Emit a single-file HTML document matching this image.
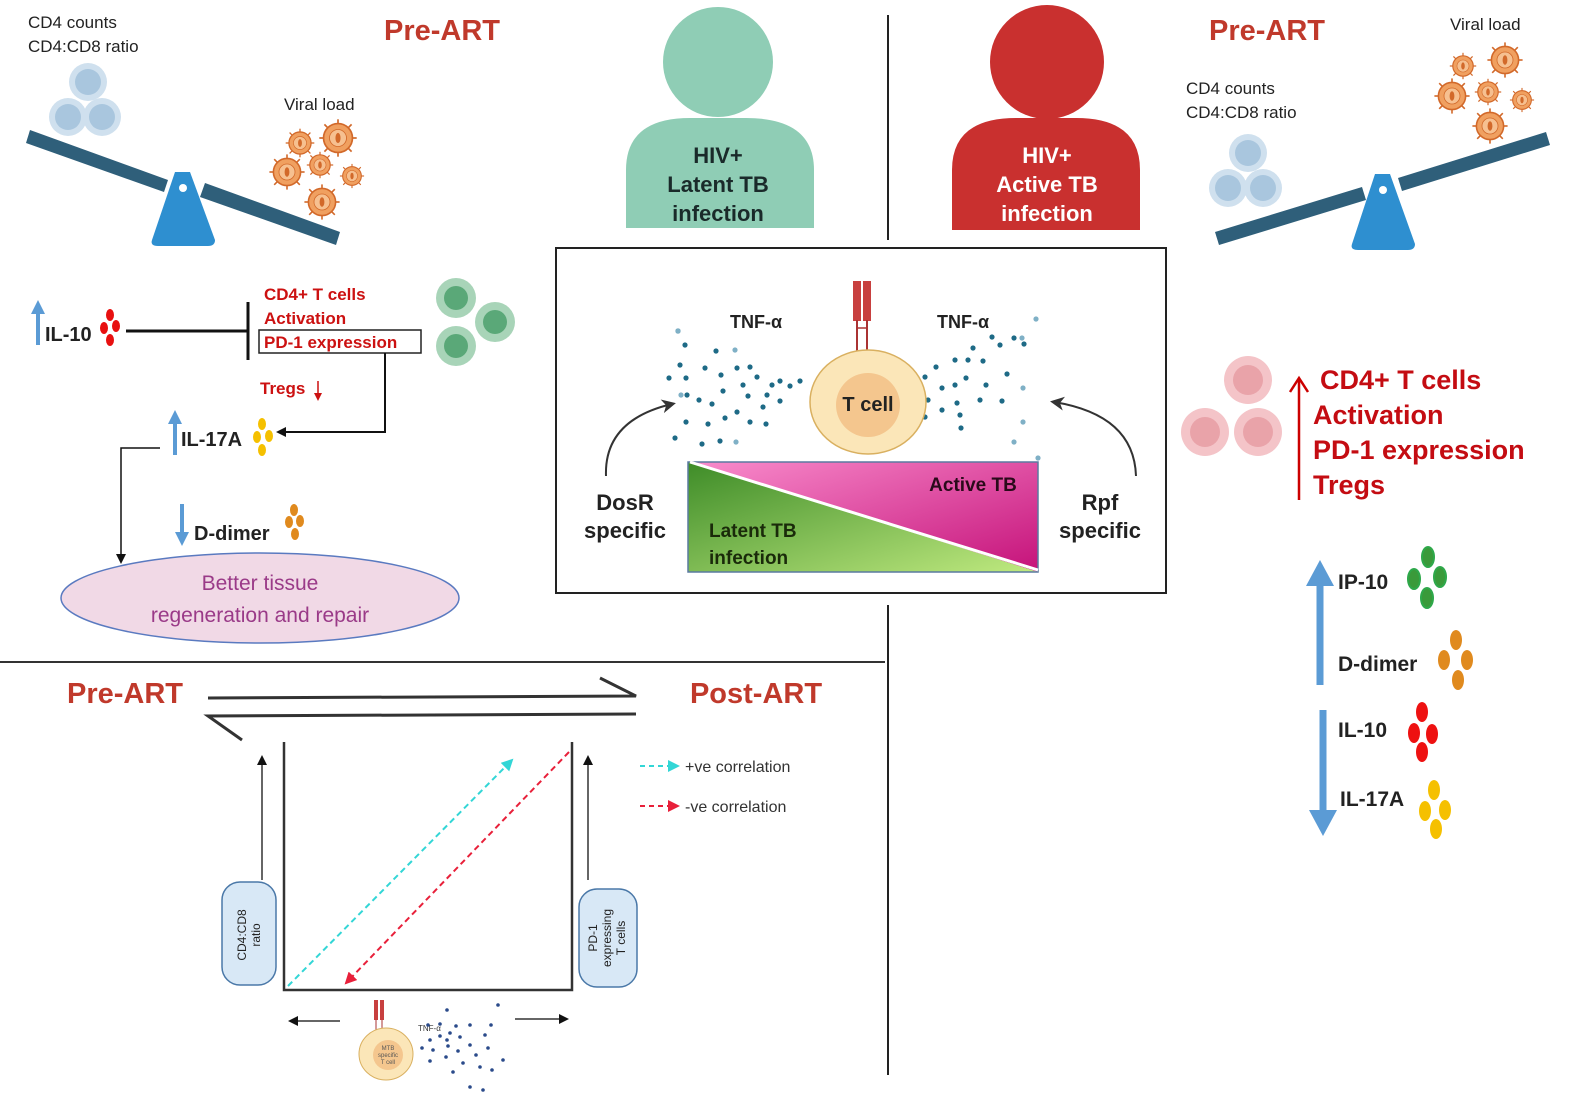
<!DOCTYPE html>
<html><head><meta charset="utf-8"><style>
html,body{margin:0;padding:0;background:#fff;}
svg{display:block;font-family:"Liberation Sans",sans-serif;}
.b{font-weight:bold;}
</style></head><body>
<svg width="1579" height="1105" viewBox="0 0 1579 1105" xmlns="http://www.w3.org/2000/svg">
<defs>
<marker id="ah" markerWidth="10" markerHeight="10" refX="8" refY="5" orient="auto" markerUnits="userSpaceOnUse"><path d="M0,0 L10,5 L0,10 z" fill="#111"/></marker>
<marker id="ahb" markerWidth="14" markerHeight="14" refX="10" refY="7" orient="auto" markerUnits="userSpaceOnUse"><path d="M0,0 L14,7 L0,14 L4,7 z" fill="#333"/></marker>
<marker id="ahc" markerWidth="12" markerHeight="12" refX="10" refY="6" orient="auto" markerUnits="userSpaceOnUse"><path d="M0,0 L12,6 L0,12 z" fill="#33d6d6"/></marker>
<marker id="ahr" markerWidth="12" markerHeight="12" refX="10" refY="6" orient="auto" markerUnits="userSpaceOnUse"><path d="M0,0 L12,6 L0,12 z" fill="#e8203a"/></marker>
<linearGradient id="gm" x1="0" y1="0" x2="1" y2="1"><stop offset="0" stop-color="#f98ccc"/><stop offset="1" stop-color="#c5127a"/></linearGradient>
<linearGradient id="gg" x1="0" y1="0" x2="1" y2="1"><stop offset="0" stop-color="#3e8c28"/><stop offset="1" stop-color="#c0ea80"/></linearGradient>
<g id="vir"><circle r="17" fill="#f0a060" stroke="#d2692a" stroke-width="2"/><circle r="10" fill="#f6c090" stroke="#d2692a"/><ellipse rx="3" ry="6" fill="#d2692a"/>
<g stroke="#d2692a" stroke-width="2"><line x1="0" y1="-17" x2="0" y2="-22"/><line x1="0" y1="17" x2="0" y2="22"/><line x1="17" y1="0" x2="22" y2="0"/><line x1="-17" y1="0" x2="-22" y2="0"/><line x1="12" y1="12" x2="16" y2="16"/><line x1="-12" y1="-12" x2="-16" y2="-16"/><line x1="12" y1="-12" x2="16" y2="-16"/><line x1="-12" y1="12" x2="-16" y2="16"/></g></g>
<g id="bcell"><circle r="19" fill="#cfe0ee"/><circle r="13" fill="#a9c6de"/></g>
</defs>

<line x1="888" y1="15" x2="888" y2="240" stroke="#222" stroke-width="2"/>
<line x1="888" y1="605" x2="888" y2="1075" stroke="#222" stroke-width="2"/>
<line x1="0" y1="662" x2="885" y2="662" stroke="#333" stroke-width="2"/>

<text x="28" y="28" font-size="17" fill="#222">CD4 counts</text>
<text x="28" y="52" font-size="17" fill="#222">CD4:CD8 ratio</text>
<text x="442" y="40" font-size="29" class="b" fill="#c0392b" text-anchor="middle">Pre-ART</text>
<text x="284" y="110" font-size="17" fill="#222">Viral load</text>
<use href="#bcell" x="88" y="82"/><use href="#bcell" x="68" y="117"/><use href="#bcell" x="102" y="117"/>
<path d="M30,130 L168,180 L164,192 L26,143 z" fill="#2f5f7a"/>
<path d="M205,183 L340,232 L336,245 L200,197 z" fill="#2f5f7a"/>
<path d="M175,172 L190,172 L215,240 Q215,246 208,246 L158,246 Q150,246 152,240 z" fill="#2e8fd0"/>
<circle cx="183" cy="188" r="4" fill="#fff"/>
<use href="#vir" transform="translate(300,143) scale(0.65)"/>
<use href="#vir" transform="translate(338,138) scale(0.85)"/>
<use href="#vir" transform="translate(287,172) scale(0.8)"/>
<use href="#vir" transform="translate(320,165) scale(0.6)"/>
<use href="#vir" transform="translate(352,176) scale(0.55)"/>
<use href="#vir" transform="translate(322,202) scale(0.8)"/>

<circle cx="718" cy="62" r="55" fill="#8fcdb5"/>
<path d="M626,228 L626,170 Q626,118 690,118 L746,118 Q814,118 814,170 L814,228 z" fill="#8fcdb5"/>
<text x="718" y="163" font-size="22" class="b" fill="#1a2a2a" text-anchor="middle">HIV+</text>
<text x="718" y="192" font-size="22" class="b" fill="#1a2a2a" text-anchor="middle">Latent TB</text>
<text x="718" y="221" font-size="22" class="b" fill="#1a2a2a" text-anchor="middle">infection</text>
<circle cx="1047" cy="62" r="57" fill="#c9302f"/>
<path d="M952,230 L952,170 Q952,118 1016,118 L1076,118 Q1140,118 1140,170 L1140,230 z" fill="#c9302f"/>
<text x="1047" y="163" font-size="22" class="b" fill="#fff" text-anchor="middle">HIV+</text>
<text x="1047" y="192" font-size="22" class="b" fill="#fff" text-anchor="middle">Active TB</text>
<text x="1047" y="221" font-size="22" class="b" fill="#fff" text-anchor="middle">infection</text>

<rect x="556" y="248" width="610" height="345" fill="#fff" stroke="#222" stroke-width="2"/>
<g fill="#1e6a86">
<circle cx="678" cy="331" r="2.6"/><circle cx="685" cy="345" r="2.6"/><circle cx="716" cy="351" r="2.6"/><circle cx="680" cy="365" r="2.6"/><circle cx="705" cy="368" r="2.6"/><circle cx="686" cy="378" r="2.6"/><circle cx="669" cy="378" r="2.6"/><circle cx="721" cy="375" r="2.6"/><circle cx="737" cy="368" r="2.6"/><circle cx="750" cy="367" r="2.6"/><circle cx="743" cy="385" r="2.6"/><circle cx="757" cy="377" r="2.6"/><circle cx="767" cy="395" r="2.6"/><circle cx="772" cy="385" r="2.6"/><circle cx="780" cy="381" r="2.6"/><circle cx="763" cy="407" r="2.6"/><circle cx="748" cy="396" r="2.6"/><circle cx="723" cy="391" r="2.6"/><circle cx="712" cy="404" r="2.6"/><circle cx="699" cy="400" r="2.6"/><circle cx="687" cy="395" r="2.6"/><circle cx="725" cy="418" r="2.6"/><circle cx="737" cy="412" r="2.6"/><circle cx="750" cy="422" r="2.6"/><circle cx="766" cy="424" r="2.6"/><circle cx="686" cy="422" r="2.6"/><circle cx="708" cy="424" r="2.6"/><circle cx="675" cy="438" r="2.6"/><circle cx="702" cy="444" r="2.6"/><circle cx="720" cy="441" r="2.6"/><circle cx="790" cy="386" r="2.6"/><circle cx="800" cy="381" r="2.6"/><circle cx="780" cy="401" r="2.6"/>
<circle cx="880" cy="396" r="2.6"/><circle cx="890" cy="403" r="2.6"/><circle cx="896" cy="396" r="2.6"/><circle cx="896" cy="386" r="2.6"/><circle cx="913" cy="375" r="2.6"/><circle cx="925" cy="377" r="2.6"/><circle cx="913" cy="395" r="2.6"/><circle cx="928" cy="400" r="2.6"/><circle cx="913" cy="410" r="2.6"/><circle cx="925" cy="417" r="2.6"/><circle cx="942" cy="410" r="2.6"/><circle cx="942" cy="388" r="2.6"/><circle cx="936" cy="367" r="2.6"/><circle cx="955" cy="385" r="2.6"/><circle cx="955" cy="360" r="2.6"/><circle cx="957" cy="403" r="2.6"/><circle cx="960" cy="415" r="2.6"/><circle cx="966" cy="378" r="2.6"/><circle cx="968" cy="360" r="2.6"/><circle cx="983" cy="361" r="2.6"/><circle cx="980" cy="400" r="2.6"/><circle cx="986" cy="385" r="2.6"/><circle cx="1000" cy="345" r="2.6"/><circle cx="1002" cy="401" r="2.6"/><circle cx="1014" cy="338" r="2.6"/><circle cx="1024" cy="344" r="2.6"/><circle cx="973" cy="348" r="2.6"/><circle cx="992" cy="337" r="2.6"/><circle cx="1007" cy="374" r="2.6"/><circle cx="961" cy="428" r="2.6"/>
</g>
<g fill="#7fb0c6">
<circle cx="678" cy="331" r="2.6"/><circle cx="681" cy="395" r="2.6"/><circle cx="735" cy="350" r="2.6"/><circle cx="736" cy="442" r="2.6"/><circle cx="1036" cy="319" r="2.6"/><circle cx="1023" cy="388" r="2.6"/><circle cx="1023" cy="422" r="2.6"/><circle cx="1014" cy="442" r="2.6"/><circle cx="1038" cy="458" r="2.6"/><circle cx="1022" cy="338" r="2.6"/>
</g>
<text x="756" y="328" font-size="18" class="b" fill="#222" text-anchor="middle">TNF-α</text>
<text x="963" y="328" font-size="18" class="b" fill="#222" text-anchor="middle">TNF-α</text>
<rect x="853" y="281" width="8" height="40" fill="#c8403f"/><rect x="863" y="281" width="8" height="40" fill="#c8403f"/>
<line x1="857" y1="320" x2="857" y2="355" stroke="#a33" stroke-width="2"/><line x1="867" y1="320" x2="867" y2="355" stroke="#a33" stroke-width="2"/>
<line x1="857" y1="328" x2="867" y2="328" stroke="#a33" stroke-width="1.5"/>
<ellipse cx="868" cy="402" rx="58" ry="52" fill="#fbe6b8" stroke="#d9b060" stroke-width="1.5"/>
<circle cx="868" cy="405" r="32" fill="#f4c68e"/>
<text x="868" y="411" font-size="20" class="b" fill="#222" text-anchor="middle">T cell</text>
<polygon points="688,462 1038,462 1038,572" fill="url(#gm)"/>
<polygon points="688,462 1038,572 688,572" fill="url(#gg)"/>
<rect x="688" y="462" width="350" height="110" fill="none" stroke="#5a7aa0" stroke-width="1.5"/>
<line x1="690" y1="462" x2="1038" y2="570" stroke="#fff" stroke-width="3"/>
<text x="973" y="491" font-size="19" class="b" fill="#2a0a1a" text-anchor="middle">Active TB</text>
<text x="709" y="537" font-size="19" class="b" fill="#1a2a0a">Latent TB</text>
<text x="709" y="564" font-size="19" class="b" fill="#1a2a0a">infection</text>
<text x="625" y="510" font-size="22" class="b" fill="#222" text-anchor="middle">DosR</text>
<text x="625" y="538" font-size="22" class="b" fill="#222" text-anchor="middle">specific</text>
<text x="1100" y="510" font-size="22" class="b" fill="#222" text-anchor="middle">Rpf</text>
<text x="1100" y="538" font-size="22" class="b" fill="#222" text-anchor="middle">specific</text>
<path d="M606,476 Q604,420 672,404" fill="none" stroke="#333" stroke-width="2" marker-end="url(#ahb)"/>
<path d="M1136,476 Q1134,415 1054,402" fill="none" stroke="#333" stroke-width="2" marker-end="url(#ahb)"/>

<text x="1267" y="40" font-size="29" class="b" fill="#c0392b" text-anchor="middle">Pre-ART</text>
<text x="1450" y="30" font-size="17" fill="#222">Viral load</text>
<text x="1186" y="94" font-size="17" fill="#222">CD4 counts</text>
<text x="1186" y="118" font-size="17" fill="#222">CD4:CD8 ratio</text>
<use href="#bcell" x="1248" y="153"/><use href="#bcell" x="1228" y="188"/><use href="#bcell" x="1263" y="188"/>
<path d="M1215,232 L1362,187 L1366,200 L1219,245 z" fill="#2f5f7a"/>
<path d="M1398,178 L1546,132 L1550,145 L1402,191 z" fill="#2f5f7a"/>
<path d="M1375,174 L1390,174 L1415,244 Q1415,250 1408,250 L1358,250 Q1350,250 1352,244 z" fill="#2e8fd0"/>
<circle cx="1383" cy="190" r="4" fill="#fff"/>
<use href="#vir" transform="translate(1463,66) scale(0.6)"/>
<use href="#vir" transform="translate(1505,60) scale(0.8)"/>
<use href="#vir" transform="translate(1452,96) scale(0.8)"/>
<use href="#vir" transform="translate(1488,92) scale(0.6)"/>
<use href="#vir" transform="translate(1522,100) scale(0.55)"/>
<use href="#vir" transform="translate(1490,126) scale(0.8)"/>

<g><circle cx="1248" cy="380" r="24" fill="#f4c4c8"/><circle cx="1248" cy="380" r="15" fill="#e9a3a9"/>
<circle cx="1205" cy="432" r="24" fill="#f4c4c8"/><circle cx="1205" cy="432" r="15" fill="#e9a3a9"/>
<circle cx="1258" cy="432" r="24" fill="#f4c4c8"/><circle cx="1258" cy="432" r="15" fill="#e9a3a9"/></g>
<line x1="1299" y1="500" x2="1299" y2="380" stroke="#c00" stroke-width="2.5"/>
<path d="M1290,392 L1299,378 L1308,392" fill="none" stroke="#c00" stroke-width="2.5"/>
<g font-size="27" class="b" fill="#c40c12">
<text x="1320" y="389">CD4+ T cells</text><text x="1313" y="424">Activation</text><text x="1313" y="459">PD-1 expression</text><text x="1313" y="494">Tregs</text></g>
<line x1="1320" y1="685" x2="1320" y2="580" stroke="#5b9bd5" stroke-width="7"/>
<path d="M1306,586 L1320,560 L1334,586 z" fill="#5b9bd5"/>
<line x1="1323" y1="710" x2="1323" y2="815" stroke="#5b9bd5" stroke-width="7"/>
<path d="M1309,810 L1323,836 L1337,810 z" fill="#5b9bd5"/>
<g font-size="21" class="b" fill="#222">
<text x="1338" y="589">IP-10</text><text x="1338" y="671">D-dimer</text><text x="1338" y="737">IL-10</text><text x="1340" y="806">IL-17A</text></g>
<g fill="#3a9a3a" stroke="#2ea84a" stroke-width="2"><ellipse cx="1428" cy="557" rx="6" ry="10"/><ellipse cx="1414" cy="579" rx="6" ry="10"/><ellipse cx="1440" cy="577" rx="6" ry="10"/><ellipse cx="1427" cy="598" rx="6" ry="10"/></g>
<g fill="#e08a1e"><ellipse cx="1456" cy="640" rx="6" ry="10"/><ellipse cx="1444" cy="660" rx="6" ry="10"/><ellipse cx="1467" cy="660" rx="6" ry="10"/><ellipse cx="1458" cy="680" rx="6" ry="10"/></g>
<g fill="#ee1111"><ellipse cx="1422" cy="712" rx="6" ry="10"/><ellipse cx="1414" cy="733" rx="6" ry="10"/><ellipse cx="1432" cy="734" rx="6" ry="10"/><ellipse cx="1422" cy="752" rx="6" ry="10"/></g>
<g fill="#f5c000"><ellipse cx="1434" cy="790" rx="6" ry="10"/><ellipse cx="1425" cy="811" rx="6" ry="10"/><ellipse cx="1445" cy="810" rx="6" ry="10"/><ellipse cx="1436" cy="829" rx="6" ry="10"/></g>

<line x1="38" y1="345" x2="38" y2="310" stroke="#5b9bd5" stroke-width="4"/>
<path d="M31,314 L38,300 L45,314 z" fill="#5b9bd5"/>
<text x="45" y="341" font-size="20" class="b" fill="#222">IL-10</text>
<g fill="#e81010"><ellipse cx="110" cy="315" rx="4" ry="6"/><ellipse cx="104" cy="328" rx="4" ry="6"/><ellipse cx="116" cy="326" rx="4" ry="6"/><ellipse cx="110" cy="340" rx="4" ry="6"/></g>
<line x1="126" y1="331" x2="248" y2="331" stroke="#111" stroke-width="3"/>
<line x1="248" y1="302" x2="248" y2="360" stroke="#111" stroke-width="3"/>
<g font-size="17" class="b" fill="#cc1111"><text x="264" y="300">CD4+ T cells</text><text x="264" y="324">Activation</text><text x="264" y="348">PD-1 expression</text><text x="260" y="394">Tregs</text></g>
<rect x="259" y="330" width="162" height="23" fill="none" stroke="#222" stroke-width="1.5"/>
<line x1="318" y1="381" x2="318" y2="398" stroke="#cc1111" stroke-width="1.5"/><path d="M314,393 L318,401 L322,393 z" fill="#cc1111"/>
<g><circle cx="456" cy="298" r="20" fill="#a8d4b8"/><circle cx="456" cy="298" r="12" fill="#5aa878"/>
<circle cx="495" cy="322" r="20" fill="#a8d4b8"/><circle cx="495" cy="322" r="12" fill="#5aa878"/>
<circle cx="456" cy="346" r="20" fill="#a8d4b8"/><circle cx="456" cy="346" r="12" fill="#5aa878"/></g>
<polyline points="385,353 385,432 278,432" fill="none" stroke="#111" stroke-width="2" marker-end="url(#ah)"/>
<line x1="175" y1="455" x2="175" y2="420" stroke="#5b9bd5" stroke-width="4"/>
<path d="M168,424 L175,410 L182,424 z" fill="#5b9bd5"/>
<text x="181" y="446" font-size="20" class="b" fill="#222">IL-17A</text>
<g fill="#f5c000"><ellipse cx="262" cy="424" rx="4" ry="6"/><ellipse cx="257" cy="437" rx="4" ry="6"/><ellipse cx="269" cy="436" rx="4" ry="6"/><ellipse cx="262" cy="450" rx="4" ry="6"/></g>
<polyline points="160,448 121,448 121,562" fill="none" stroke="#111" stroke-width="1.5" marker-end="url(#ah)"/>
<line x1="182" y1="504" x2="182" y2="535" stroke="#5b9bd5" stroke-width="4"/>
<path d="M175,532 L182,546 L189,532 z" fill="#5b9bd5"/>
<text x="194" y="540" font-size="20" class="b" fill="#222">D-dimer</text>
<g fill="#e08a1e"><ellipse cx="294" cy="510" rx="4" ry="6"/><ellipse cx="289" cy="522" rx="4" ry="6"/><ellipse cx="300" cy="521" rx="4" ry="6"/><ellipse cx="295" cy="534" rx="4" ry="6"/></g>
<ellipse cx="260" cy="598" rx="199" ry="45" fill="#f1d9e6" stroke="#5a7ac0" stroke-width="1.5"/>
<text x="260" y="590" font-size="21" fill="#9a3a88" text-anchor="middle">Better tissue</text>
<text x="260" y="622" font-size="21" fill="#9a3a88" text-anchor="middle">regeneration and repair</text>

<text x="125" y="703" font-size="29" class="b" fill="#c0392b" text-anchor="middle">Pre-ART</text>
<text x="756" y="703" font-size="29" class="b" fill="#c0392b" text-anchor="middle">Post-ART</text>
<polyline points="208,698 636,696 600,678" fill="none" stroke="#333" stroke-width="3"/>
<polyline points="636,714 208,716 242,740" fill="none" stroke="#333" stroke-width="3"/>
<polyline points="284,742 284,990 572,990 572,742" fill="none" stroke="#333" stroke-width="2.5"/>
<line x1="262" y1="880" x2="262" y2="757" stroke="#333" stroke-width="1.5" marker-end="url(#ah)"/>
<line x1="588" y1="880" x2="588" y2="757" stroke="#333" stroke-width="1.5" marker-end="url(#ah)"/>
<rect x="222" y="882" width="54" height="103" rx="18" fill="#d8e8f6" stroke="#4a78a8" stroke-width="1.5"/>
<rect x="579" y="889" width="58" height="98" rx="18" fill="#d8e8f6" stroke="#4a78a8" stroke-width="1.5"/>
<text transform="translate(246,935) rotate(-90)" font-size="12" fill="#222" text-anchor="middle">CD4:CD8</text>
<text transform="translate(260,935) rotate(-90)" font-size="12" fill="#222" text-anchor="middle">ratio</text>
<text transform="translate(597,938) rotate(-90)" font-size="12" fill="#222" text-anchor="middle">PD-1</text>
<text transform="translate(611,938) rotate(-90)" font-size="12" fill="#222" text-anchor="middle">expressing</text>
<text transform="translate(625,938) rotate(-90)" font-size="12" fill="#222" text-anchor="middle">T cells</text>
<line x1="288" y1="986" x2="512" y2="760" stroke="#33d6d6" stroke-width="2" stroke-dasharray="6,4" marker-end="url(#ahc)"/>
<line x1="569" y1="752" x2="346" y2="983" stroke="#e8203a" stroke-width="2" stroke-dasharray="6,4" marker-end="url(#ahr)"/>
<line x1="640" y1="766" x2="678" y2="766" stroke="#33d6d6" stroke-width="2" stroke-dasharray="5,4" marker-end="url(#ahc)"/>
<line x1="640" y1="806" x2="678" y2="806" stroke="#e8203a" stroke-width="2" stroke-dasharray="5,4" marker-end="url(#ahr)"/>
<text x="685" y="772" font-size="16" fill="#333">+ve correlation</text>
<text x="685" y="812" font-size="16" fill="#333">-ve correlation</text>
<line x1="340" y1="1021" x2="290" y2="1021" stroke="#333" stroke-width="1.5" marker-end="url(#ah)"/>
<line x1="515" y1="1019" x2="567" y2="1019" stroke="#333" stroke-width="1.5" marker-end="url(#ah)"/>
<rect x="374" y="1000" width="4" height="20" fill="#c8403f"/><rect x="380" y="1000" width="4" height="20" fill="#c8403f"/>
<line x1="376" y1="1020" x2="376" y2="1030" stroke="#a33"/><line x1="382" y1="1020" x2="382" y2="1030" stroke="#a33"/>
<ellipse cx="386" cy="1054" rx="27" ry="26" fill="#fbe6b8" stroke="#d9b060"/>
<circle cx="388" cy="1055" r="15" fill="#f4c68e"/>
<text x="388" y="1050" font-size="6" fill="#555" text-anchor="middle">MTB</text>
<text x="388" y="1057" font-size="6" fill="#555" text-anchor="middle">specific</text>
<text x="388" y="1064" font-size="6" fill="#555" text-anchor="middle">T cell</text>
<text x="418" y="1031" font-size="8" fill="#333">TNF-α</text>
<g fill="#2a4a8a">
<circle cx="447" cy="1010" r="1.8"/><circle cx="428" cy="1025" r="1.8"/><circle cx="440" cy="1024" r="1.8"/><circle cx="456" cy="1026" r="1.8"/><circle cx="450" cy="1033" r="1.8"/><circle cx="460" cy="1037" r="1.8"/><circle cx="440" cy="1036" r="1.8"/><circle cx="430" cy="1040" r="1.8"/><circle cx="470" cy="1045" r="1.8"/><circle cx="448" cy="1046" r="1.8"/><circle cx="422" cy="1048" r="1.8"/><circle cx="433" cy="1050" r="1.8"/><circle cx="458" cy="1051" r="1.8"/><circle cx="476" cy="1055" r="1.8"/><circle cx="446" cy="1057" r="1.8"/><circle cx="463" cy="1063" r="1.8"/><circle cx="480" cy="1067" r="1.8"/><circle cx="453" cy="1072" r="1.8"/><circle cx="488" cy="1048" r="1.8"/><circle cx="470" cy="1025" r="1.8"/><circle cx="430" cy="1061" r="1.8"/><circle cx="491" cy="1025" r="1.8"/><circle cx="492" cy="1070" r="1.8"/><circle cx="485" cy="1035" r="1.8"/><circle cx="447" cy="1040" r="1.8"/><circle cx="498" cy="1005" r="1.8"/><circle cx="483" cy="1090" r="1.8"/><circle cx="503" cy="1060" r="1.8"/><circle cx="470" cy="1087" r="1.8"/>
</g>
</svg>
</body></html>
